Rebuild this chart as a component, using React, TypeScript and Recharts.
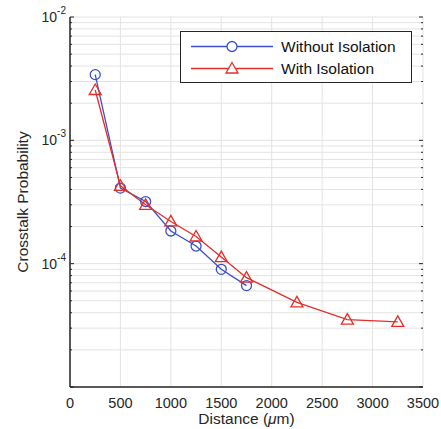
import React from "react";
import { LineChart, Line, XAxis, YAxis, CartesianGrid } from "recharts";

// Distance (um) and crosstalk probability
const distanceWithout = [250, 500, 750, 1000, 1250, 1500, 1750];
const withoutIsolation = [3.41e-3, 4.1e-4, 3.19e-4, 1.84e-4, 1.39e-4, 9.0e-5, 6.64e-5];

const distanceWith = [250, 500, 750, 1000, 1250, 1500, 1750, 2250, 2750, 3250];
const withIsolation = [2.56e-3, 4.28e-4, 3.0e-4, 2.2e-4, 1.66e-4, 1.13e-4, 7.7e-5, 4.86e-5, 3.52e-5, 3.37e-5];

const xMajorTicks = [0, 500, 1000, 1500, 2000, 2500, 3000, 3500];
const decades = [1e-5, 1e-4, 1e-3, 1e-2];

const W = 441;
const H = 429;
const PLOT = { left: 70, top: 17, right: 423, bottom: 387 };

const AXIS = "#262626";
const GRID = "#e3e3e3";
const BLUE = "#3d4fc4";
const RED = "#e1302a";
const FONT = "'Liberation Sans', Arial, Helvetica, sans-serif";

const xMinorTicks: number[] = [];
for (let v = 0; v <= 3500; v += 100) xMinorTicks.push(v);

// log axis ticks: every 1..9 multiple of each decade
const yTicks: number[] = [];
decades.forEach((d, i) => {
  if (i === decades.length - 1) {
    yTicks.push(d);
    return;
  }
  for (let m = 1; m <= 9; m++) yTicks.push(+(m * d).toPrecision(3));
});

// merge both series by distance
const allDistances = Array.from(new Set([...distanceWithout, ...distanceWith])).sort((a, b) => a - b);
const data = allDistances.map((d) => {
  const a = distanceWithout.indexOf(d);
  const b = distanceWith.indexOf(d);
  return {
    distance: d,
    without: a >= 0 ? withoutIsolation[a] : null,
    withIso: b >= 0 ? withIsolation[b] : null,
  };
});

function isDecade(v: number) {
  return decades.some((d) => Math.abs(v - d) / d < 1e-6);
}

function YTick(props: any) {
  const { payload } = props;
  const y = payload.coordinate;
  const v = payload.value;
  const major = isDecade(v);
  const len = major ? 4 : 2;
  const exp = Math.round(Math.log10(v));
  return (
    <g>
      <line x1={PLOT.left} x2={PLOT.left + len} y1={y} y2={y} stroke={AXIS} strokeWidth={1} />
      <line x1={PLOT.right - len} x2={PLOT.right} y1={y} y2={y} stroke={AXIS} strokeWidth={1} />
      {major && exp > -5 && (
        <text x={66} y={y + 5} textAnchor="end" fill={AXIS} fontFamily={FONT}>
          <tspan fontSize={14}>10</tspan>
          <tspan fontSize={10} dy={-8}>{String(exp)}</tspan>
        </text>
      )}
    </g>
  );
}

function XTick(props: any) {
  const { payload } = props;
  const x = payload.coordinate;
  return (
    <text x={x} y={PLOT.bottom + 16} dy="0.35em" textAnchor="middle" fill={AXIS} fontSize={14.5} fontFamily={FONT}>
      {payload.value}
    </text>
  );
}

function XMinorTick(props: any) {
  const { payload } = props;
  const x = payload.coordinate;
  const len = payload.value % 500 === 0 ? 4 : 2;
  return (
    <g>
      <line x1={x} x2={x} y1={PLOT.bottom} y2={PLOT.bottom - len} stroke={AXIS} strokeWidth={1} />
      <line x1={x} x2={x} y1={PLOT.top} y2={PLOT.top + len} stroke={AXIS} strokeWidth={1} />
    </g>
  );
}

function CircleDot(props: any) {
  const { cx, cy, index } = props;
  if (cx == null || cy == null) return <g key={index} />;
  return <circle key={index} cx={cx} cy={cy} r={5} fill="none" stroke={BLUE} strokeWidth={1.3} />;
}

function TriangleDot(props: any) {
  const { cx, cy, index } = props;
  if (cx == null || cy == null) return <g key={index} />;
  const pts = `${cx},${cy - 6} ${cx - 6},${cy + 4.5} ${cx + 6},${cy + 4.5}`;
  return <polygon key={index} points={pts} fill="none" stroke={RED} strokeWidth={1.3} />;
}

function LegendBox() {
  const rows = [
    { label: "Without Isolation", color: BLUE, marker: "circle" },
    { label: "With Isolation", color: RED, marker: "triangle" },
  ];
  return (
    <div
      style={{
        position: "absolute",
        left: 180,
        top: 31,
        width: 230,
        height: 50,
        border: `1px solid ${AXIS}`,
        background: "#fff",
        fontFamily: FONT,
        fontSize: 15.5,
        color: "#111",
      }}
    >
      {rows.map((r, i) => (
        <div key={r.label} style={{ position: "absolute", left: 0, top: 4 + i * 21.5, height: 21, width: 230 }}>
          <svg width={96} height={21} style={{ position: "absolute", left: 0, top: 0 }}>
            <line x1={10} x2={92} y1={10.5} y2={10.5} stroke={r.color} strokeWidth={1.3} />
            {r.marker === "circle" ? (
              <circle cx={51} cy={10.5} r={5} fill="#fff" stroke={r.color} strokeWidth={1.3} />
            ) : (
              <polygon points="51,4.5 45,15 57,15" fill="#fff" stroke={r.color} strokeWidth={1.3} />
            )}
          </svg>
          <span style={{ position: "absolute", left: 100, top: 1, lineHeight: "20px", whiteSpace: "nowrap" }}>
            {r.label}
          </span>
        </div>
      ))}
    </div>
  );
}

export default function App() {
  const midY = (PLOT.top + PLOT.bottom) / 2;
  return (
    <div style={{ position: "absolute", left: 0, top: 0, width: W, height: H, background: "#fff" }}>
      <LineChart
        width={W}
        height={H}
        data={data}
        margin={{ top: PLOT.top, right: W - PLOT.right, bottom: 0, left: 0 }}
      >
        <CartesianGrid xAxisId="main" yAxisId="left" stroke={GRID} strokeWidth={1} />
        <XAxis
          xAxisId="main"
          dataKey="distance"
          type="number"
          domain={[0, 3500]}
          ticks={xMajorTicks}
          height={H - PLOT.bottom}
          tickLine={false}
          axisLine={{ stroke: AXIS, strokeWidth: 1.5 }}
          tick={<XTick />}
          interval={0}
        />
        <XAxis
          xAxisId="minor"
          orientation="top"
          dataKey="distance"
          type="number"
          domain={[0, 3500]}
          ticks={xMinorTicks}
          height={0}
          tickLine={false}
          axisLine={{ stroke: AXIS, strokeWidth: 1.5 }}
          tick={<XMinorTick />}
          interval={0}
        />
        <YAxis
          yAxisId="left"
          scale="log"
          domain={[1e-5, 1e-2]}
          allowDataOverflow
          ticks={yTicks}
          interval={0}
          width={PLOT.left}
          tickLine={false}
          axisLine={{ stroke: AXIS, strokeWidth: 1.5 }}
          tick={<YTick />}
        />
        <YAxis
          yAxisId="right"
          orientation="right"
          scale="log"
          domain={[1e-5, 1e-2]}
          allowDataOverflow
          width={0}
          tick={false}
          tickLine={false}
          axisLine={{ stroke: AXIS, strokeWidth: 1.5 }}
        />
        <Line
          xAxisId="main"
          yAxisId="left"
          dataKey="without"
          stroke={BLUE}
          strokeWidth={1.3}
          dot={<CircleDot />}
          activeDot={false}
          connectNulls
          isAnimationActive={false}
        />
        <Line
          xAxisId="main"
          yAxisId="left"
          dataKey="withIso"
          stroke={RED}
          strokeWidth={1.3}
          dot={<TriangleDot />}
          activeDot={false}
          connectNulls
          isAnimationActive={false}
        />
      </LineChart>
      <svg width={W} height={H} style={{ position: "absolute", left: 0, top: 0, pointerEvents: "none" }}>
        <text
          x={(PLOT.left + PLOT.right) / 2}
          y={419}
          dy="0.35em"
          textAnchor="middle"
          fill={AXIS}
          fontSize={15.5}
          fontFamily={FONT}
        >
          Distance (<tspan fontStyle="italic">μ</tspan>m)
        </text>
        <text
          x={23}
          y={midY}
          dy="0.35em"
          textAnchor="middle"
          fill={AXIS}
          fontSize={15.5}
          fontFamily={FONT}
          transform={`rotate(-90 23 ${midY})`}
        >
          Crosstalk Probability
        </text>
      </svg>
      <LegendBox />
    </div>
  );
}
